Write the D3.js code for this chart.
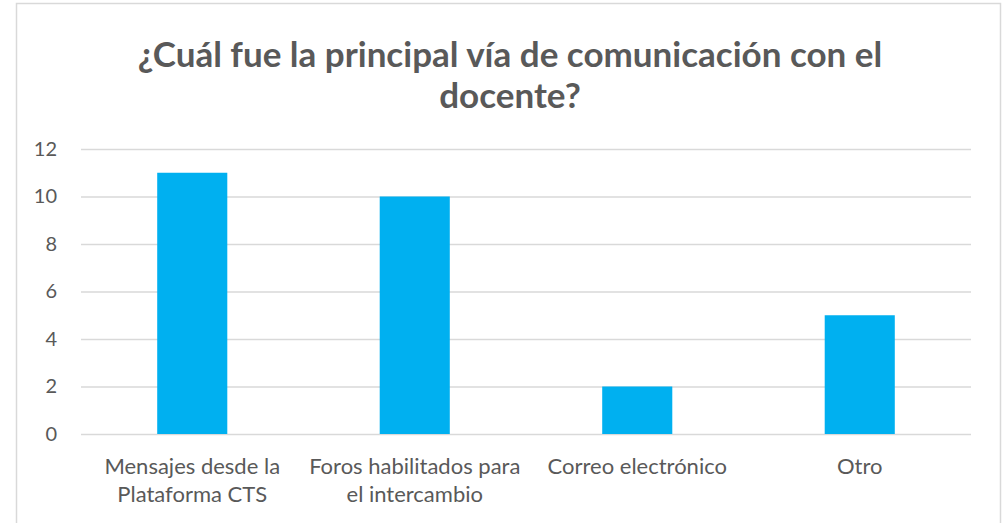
<!DOCTYPE html>
<html><head><meta charset="utf-8">
<script src="https://cdn.jsdelivr.net/npm/d3@7"></script>
<style>body{margin:0;background:#fff;} svg{display:block;}</style>
</head><body>
<svg id="c" width="1007" height="523"></svg>
<script>
const categories = [["Mensajes desde la","Plataforma CTS"],["Foros habilitados para","el intercambio"],["Correo electrónico"],["Otro"]];
const values = [11, 10, 2, 5];
const yTicks = [0, 2, 4, 6, 8, 10, 12];
const titleLines = ["¿Cuál fue la principal vía de comunicación con el", "docente?"];

const svg = d3.select("#c");
const font = "Lato, 'Open Sans', sans-serif";
const textColor = "#595959";
const gridColor = "#d9d9d9";

svg.append("rect").attr("x",16.5).attr("y",3.5).attr("width",984).attr("height",530)
  .attr("fill","#fff").attr("stroke",gridColor).attr("stroke-width",1.5);

const m = {left:81, right:971, top:149, bottom:434};
const keys = categories.map(c => c.join(" "));
const x = d3.scaleBand().domain(keys).range([m.left, m.right]).padding(0);
const y = d3.scaleLinear().domain([0,12]).range([m.bottom, m.top]);

// title
const t = svg.append("text").attr("text-anchor","middle").attr("fill",textColor)
  .attr("font-family",font).attr("font-weight","bold").attr("font-size",35);
titleLines.forEach((l,i)=> t.append("tspan").attr("x",510).attr("y",67+i*41).text(l));

// gridlines
const yAxis = d3.axisLeft(y).tickValues(yTicks).tickSize(-(m.right-m.left)).tickPadding(24).tickFormat(d3.format("d"));
const ga = svg.append("g").attr("transform",`translate(${m.left},0)`).call(yAxis);
ga.select(".domain").remove();
ga.selectAll(".tick line").attr("stroke",gridColor).attr("stroke-width",1.5);
ga.selectAll(".tick text").attr("fill",textColor).attr("font-family",font).attr("font-size",20);

// bars
const frac = 0.315;
svg.append("g").selectAll("rect").data(values).join("rect")
  .attr("x",(d,i)=> x(keys[i]) + x.bandwidth()*(1-frac)/2)
  .attr("width", x.bandwidth()*frac)
  .attr("y", d=>y(d))
  .attr("height", d=> y(0)-y(d))
  .attr("fill","#00B0F0");

// x labels
const xl = svg.append("g");
categories.forEach((c,i)=>{
  const tx = xl.append("text").attr("text-anchor","middle").attr("fill",textColor)
    .attr("font-family",font).attr("font-size",22);
  c.forEach((l,j)=> tx.append("tspan").attr("x", x(keys[i])+x.bandwidth()/2).attr("y", 474+j*28).text(l));
});
</script>
</body></html>
